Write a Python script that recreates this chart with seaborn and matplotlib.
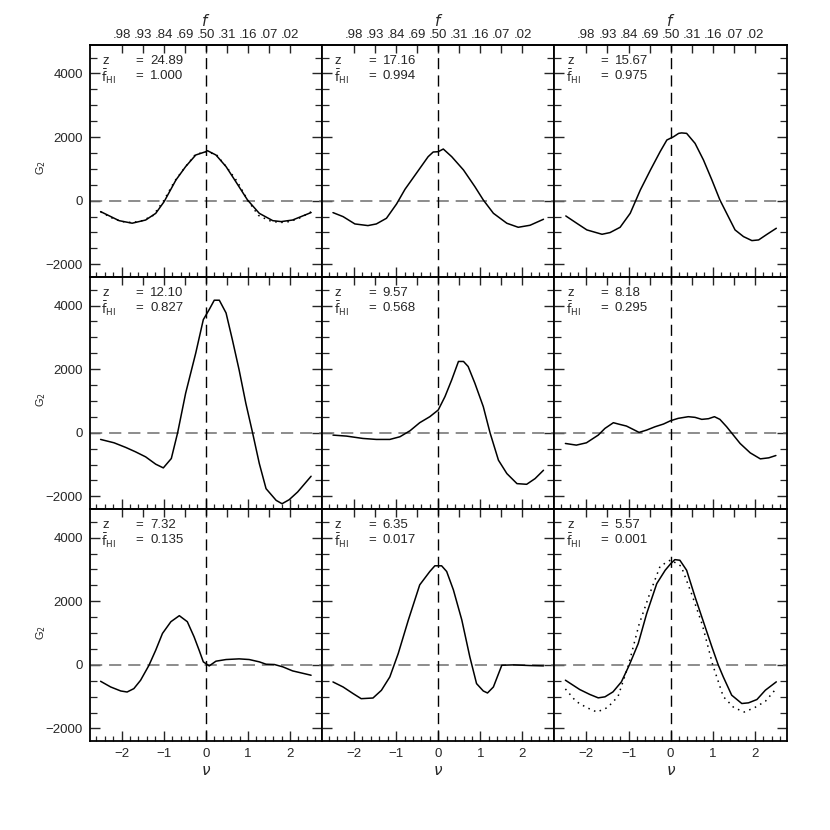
import numpy as np
import pandas as pd
import matplotlib
matplotlib.use("Agg")
import matplotlib.pyplot as plt
from matplotlib.ticker import MultipleLocator, FixedLocator
import seaborn as sns

# ---------------- data ----------------
z_vals = ["24.89", "17.16", "15.67", "12.10", "9.57", "8.18", "7.32", "6.35", "5.57"]
fhi_vals = ["1.000", "0.994", "0.975", "0.827", "0.568", "0.295", "0.135", "0.017", "0.001"]

nu1 = [-2.5, -2.06, -1.75, -1.43, -1.19, -0.99, -0.71, -0.48, -0.24, 0.0, 0.04, 0.24, 0.48, 0.71, 0.99, 1.27, 1.59, 1.79, 2.06, 2.5]
g1 = [-345, -630, -710, -610, -400, -30, 650, 1070, 1435, 1540, 1570, 1435, 1070, 600, 20, -400, -630, -660, -610, -375]

nu2 = [-2.5, -2.26, -1.98, -1.67, -1.47, -1.23, -0.99, -0.79, -0.52, -0.24, -0.12, 0.0, 0.12, 0.32, 0.6, 0.87, 1.07, 1.31, 1.63, 1.9, 2.18, 2.5]
g2 = [-377, -503, -733, -785, -733, -555, -105, 356, 859, 1382, 1529, 1539, 1623, 1382, 963, 440, 21, -398, -712, -838, -775, -586]

nu3 = [-2.49, -2.23, -1.99, -1.63, -1.44, -1.2, -0.96, -0.72, -0.48, -0.25, -0.09, 0.07, 0.19, 0.26, 0.38, 0.58, 0.78, 0.98, 1.17, 1.37, 1.53, 1.73, 1.93, 2.09, 2.29, 2.51]
g3 = [-482, -712, -921, -1058, -1005, -838, -398, 335, 963, 1539, 1906, 2010, 2115, 2130, 2115, 1801, 1277, 649, 21, -503, -921, -1131, -1257, -1236, -1058, -869]

nu4 = [-2.5, -2.18, -1.9, -1.67, -1.43, -1.19, -1.01, -0.82, -0.67, -0.48, -0.24, -0.06, 0.08, 0.2, 0.32, 0.48, 0.63, 0.79, 0.95, 1.11, 1.27, 1.43, 1.67, 1.81, 1.98, 2.18, 2.5]
g4 = [-210, -316, -463, -600, -758, -989, -1105, -810, 0, 1242, 2505, 3558, 3874, 4168, 4168, 3768, 2926, 1979, 926, 0, -968, -1758, -2126, -2232, -2105, -1863, -1368]

nu5 = [-2.5, -2.18, -1.79, -1.47, -1.15, -0.91, -0.67, -0.44, -0.2, 0.0, 0.16, 0.32, 0.48, 0.6, 0.71, 0.87, 1.07, 1.23, 1.43, 1.63, 1.87, 2.1, 2.3, 2.5]
g5 = [-74, -105, -179, -210, -210, -126, 63, 316, 505, 716, 1137, 1663, 2242, 2242, 2084, 1558, 821, 0, -863, -1284, -1600, -1621, -1442, -1179]

nu6 = [-2.5, -2.24, -2.0, -1.72, -1.56, -1.36, -1.21, -1.05, -0.89, -0.75, -0.57, -0.37, -0.17, 0.0, 0.18, 0.42, 0.58, 0.74, 0.9, 1.04, 1.17, 1.33, 1.49, 1.65, 1.89, 2.13, 2.33, 2.5]
g6 = [-337, -389, -316, -74, 137, 316, 263, 211, 105, 11, 84, 189, 274, 379, 453, 505, 484, 421, 442, 505, 421, 189, -74, -337, -632, -821, -789, -716]

nu7 = [-2.5, -2.26, -2.02, -1.87, -1.71, -1.55, -1.35, -1.19, -1.03, -0.83, -0.63, -0.44, -0.28, -0.16, -0.06, 0.08, 0.24, 0.48, 0.79, 1.03, 1.27, 1.43, 1.63, 1.83, 2.06, 2.5]
g7 = [-516, -695, -821, -853, -747, -484, -11, 463, 989, 1358, 1547, 1358, 884, 463, 95, -32, 116, 168, 189, 168, 95, 21, 11, -63, -189, -326]

nu8 = [-2.5, -2.26, -2.02, -1.83, -1.55, -1.35, -1.15, -0.95, -0.71, -0.44, -0.2, -0.08, 0.08, 0.2, 0.36, 0.56, 0.75, 0.91, 1.07, 1.17, 1.31, 1.51, 1.79, 2.18, 2.5]
g8 = [-537, -695, -905, -1063, -1042, -800, -379, 358, 1411, 2516, 2937, 3116, 3116, 2937, 2358, 1411, 253, -589, -821, -884, -695, -11, 0, -21, -32]

nu9 = [-2.5, -2.16, -1.92, -1.72, -1.56, -1.37, -1.17, -0.98, -0.77, -0.57, -0.33, -0.13, 0.0, 0.1, 0.22, 0.38, 0.58, 0.82, 0.98, 1.13, 1.25, 1.45, 1.69, 1.85, 2.05, 2.25, 2.51]
g9 = [-482, -775, -930, -1037, -1005, -850, -535, 0, 670, 1610, 2555, 2975, 3180, 3310, 3290, 2975, 2136, 1194, 565, 0, -377, -953, -1215, -1194, -1089, -796, -534]

# dotted reference curves (panels 1 and 9)
nu_ref = [-2.5, -2.25, -2.0, -1.75, -1.5, -1.25, -1.0, -0.75, -0.5, -0.25, 0.0, 0.25, 0.5, 0.75, 1.0, 1.25, 1.5, 1.75, 2.0, 2.25, 2.5]
g_ref1 = [-353, -534, -658, -692, -627, -465, 0, 593, 1042, 1448, 1540, 1448, 1042, 593, 0, -465, -627, -692, -658, -534, -353]
g_ref9 = [-757, -1146, -1340, -1483, -1343, -996, 0, 1271, 2227, 3103, 3300, 3103, 2227, 1271, 0, -996, -1343, -1483, -1340, -1146, -757]

f_labels = [".98", ".93", ".84", ".69", ".50", ".31", ".16", ".07", ".02"]
f_pos = [-2.0, -1.5, -1.0, -0.5, 0.0, 0.5, 1.0, 1.5, 2.0]
y_ticks = [-2000, 0, 2000, 4000]
y_ticklabels = ["\u22122000", "0", "2000", "4000"]
x_ticks = [-2, -1, 0, 1, 2]
x_ticklabels = ["\u22122", "\u22121", "0", "1", "2"]

curves = [(nu1, g1), (nu2, g2), (nu3, g3), (nu4, g4), (nu5, g5),
          (nu6, g6), (nu7, g7), (nu8, g8), (nu9, g9)]
dotted = {0: g_ref1, 8: g_ref9}

# ---------------- style ----------------
sns.set_style("ticks")
plt.rcParams["font.family"] = ["Liberation Sans", "DejaVu Sans"]
plt.rcParams["mathtext.fontset"] = "dejavusans"

fig, axes = plt.subplots(3, 3, figsize=(8.3, 8.3), dpi=100, sharex=True, sharey=True)
fig.subplots_adjust(left=0.108, right=0.948, top=0.946, bottom=0.107, wspace=0, hspace=0)

for i, ax in enumerate(axes.flat):
    r, c = divmod(i, 3)
    nu, g = curves[i]
    df = pd.DataFrame({"nu": nu, "G": g})
    ax.axhline(0, color="#6e6e6e", lw=1.1, ls=(0, (8, 4.5)), zorder=1)
    ax.axvline(0, color="black", lw=1.0, ls=(0, (8, 4.5)), zorder=1)
    sns.lineplot(data=df, x="nu", y="G", ax=ax, color="black", lw=1.1, sort=False, zorder=3)
    if i in dotted:
        dfd = pd.DataFrame({"nu": nu_ref, "G": dotted[i]})
        sns.lineplot(data=dfd, x="nu", y="G", ax=ax, color="black", lw=1.1,
                     ls=(0, (1, 3)), sort=False, zorder=2)
    ax.set_xlim(-2.76, 2.76)
    ax.set_ylim(-2400, 4900)
    ax.set_xlabel("")
    ax.set_ylabel("")
    for sp in ax.spines.values():
        sp.set_visible(True)
        sp.set_linewidth(1.3)
        sp.set_color("black")

    ax.xaxis.set_major_locator(FixedLocator(x_ticks))
    ax.xaxis.set_minor_locator(MultipleLocator(0.2))
    ax.yaxis.set_major_locator(FixedLocator(y_ticks))
    ax.yaxis.set_minor_locator(MultipleLocator(500))
    ax.tick_params(axis="both", which="major", direction="in", length=7, width=1.0,
                   top=False, bottom=True, left=True, right=True, labelsize=9.5, pad=5)
    ax.tick_params(axis="both", which="minor", direction="in", length=3.5, width=0.9,
                   top=False, bottom=True, left=True, right=True)
    ax.tick_params(axis="y", which="minor", length=5)

    if c == 0:
        ax.set_yticks(y_ticks)
        ax.set_yticklabels(y_ticklabels)
        ax.set_ylabel(r"G$_{\rm 2}$", fontsize=8)
        ax.yaxis.set_label_coords(-0.18, 0.47)
    if r == 2:
        ax.set_xticks(x_ticks)
        ax.set_xticklabels(x_ticklabels)
        ax.set_xlabel(r"$\nu$", fontsize=11, labelpad=3)

    sec = ax.secondary_xaxis("top")
    sec.set_xticks(f_pos)
    sec.tick_params(axis="x", direction="in", length=6, width=1.0, labelsize=9.5, pad=3)
    sec.spines["top"].set_linewidth(1.3)
    if r == 0:
        sec.set_xticklabels(f_labels)
        sec.set_xlabel(r"$f$", fontsize=11, labelpad=2)
    else:
        sec.set_xticklabels([])

    ax.text(0.055, 0.93, "z", transform=ax.transAxes, fontsize=9.5, va="center", ha="left")
    ax.text(0.05, 0.862, r"$\bar{\mathrm{f}}_{\mathrm{HI}}$", transform=ax.transAxes,
            fontsize=9, va="center", ha="left")
    ax.text(0.215, 0.93, "=", transform=ax.transAxes, fontsize=9.5, va="center", ha="center")
    ax.text(0.215, 0.866, "=", transform=ax.transAxes, fontsize=9.5, va="center", ha="center")
    ax.text(0.26, 0.93, z_vals[i], transform=ax.transAxes, fontsize=9.5, va="center", ha="left")
    ax.text(0.26, 0.866, fhi_vals[i], transform=ax.transAxes, fontsize=9.5, va="center", ha="left")

fig.savefig("out.png", dpi=100, facecolor="white")
